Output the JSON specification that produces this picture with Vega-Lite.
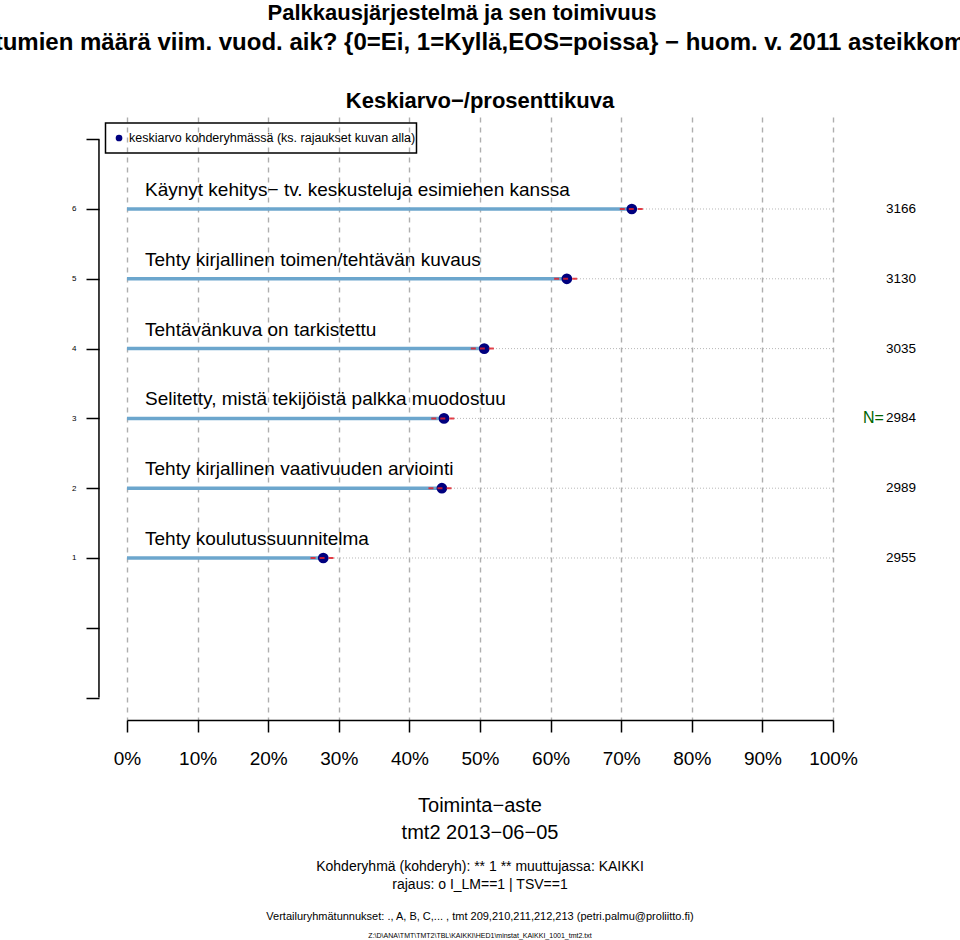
{
  "$schema": "https://vega.github.io/schema/vega-lite/v6.json",
  "width": 706,
  "height": 603,
  "autosize": {"type": "none"},
  "padding": {"left": 127, "top": 117, "right": 127, "bottom": 220},
  "background": "white",
  "config": {"view": {"stroke": null}, "font": "Liberation Sans"},
  "datasets": {
    "rows": [
      {"row": 6, "label": "Käynyt kehitys− tv. keskusteluja esimiehen kanssa", "mean": 71.5, "lo": 69.8, "hi": 73.3, "n": "3166"},
      {"row": 5, "label": "Tehty kirjallinen toimen/tehtävän kuvaus", "mean": 62.3, "lo": 60.5, "hi": 64.0, "n": "3130"},
      {"row": 4, "label": "Tehtävänkuva on tarkistettu", "mean": 50.6, "lo": 48.7, "hi": 52.4, "n": "3035"},
      {"row": 3, "label": "Selitetty, mistä tekijöistä palkka muodostuu", "mean": 44.9, "lo": 43.1, "hi": 46.7, "n": "2984"},
      {"row": 2, "label": "Tehty kirjallinen vaativuuden arviointi", "mean": 44.6, "lo": 42.7, "hi": 46.5, "n": "2989"},
      {"row": 1, "label": "Tehty koulutussuunnitelma", "mean": 27.8, "lo": 26.0, "hi": 29.5, "n": "2955"}
    ]
  },
  "data": {"name": "rows"},
  "layer": [
    {
      "mark": {"type": "point", "filled": true, "shape": "circle", "size": 115, "color": "#00007F", "opacity": 0},
      "encoding": {
        "x": {"field": "mean", "type": "quantitative", "scale": {"domain": [0, 100], "nice": false, "zero": false, "padding": 0},
          "axis": {"orient": "bottom", "values": [0, 10, 20, 30, 40, 50, 60, 70, 80, 90, 100], "labelExpr": "datum.value + '%'", "title": null,
            "grid": true, "gridDash": [5, 5], "gridColor": "#AEAEAE", "gridWidth": 1.4,
            "domain": true, "domainColor": "black", "domainWidth": 1.5,
            "ticks": true, "tickColor": "black", "tickWidth": 1.5, "tickSize": 12,
            "labelFlush": false, "labelOverlap": false, "labelBound": false,
            "labelFontSize": 19, "labelColor": "black", "labelPadding": 17, "labelFont": "Liberation Sans"}},
        "y": {"field": "row", "type": "quantitative", "scale": {"domain": [-1.321, 7.318], "nice": false, "zero": false, "padding": 0},
          "axis": {"orient": "left", "offset": 28, "values": [-1, 0, 1, 2, 3, 4, 5, 6, 7],
            "labelExpr": "datum.value >= 1 && datum.value <= 6 ? format(datum.value, 'd') : ''", "title": null,
            "grid": false, "domain": false, "ticks": true, "tickColor": "black", "tickWidth": 1.5, "tickSize": 13,
            "labelFlush": false, "labelOverlap": false,
            "labelFontSize": 8, "labelColor": "black", "labelPadding": 10, "labelFont": "Liberation Sans"}}
      }
    },
    {
      "mark": {"type": "rule", "strokeDash": [1, 2], "color": "#B8B8B8", "strokeWidth": 1},
      "encoding": {
        "y": {"field": "row", "type": "quantitative"}
      }
    },
    {
      "transform": [{"filter": "datum.row == 6"}],
      "mark": {"type": "tick", "orient": "vertical", "size": 558, "thickness": 1.5, "color": "black", "opacity": 1},
      "encoding": {
        "x": {"datum": -3.97, "type": "quantitative"},
        "y": {"datum": 3, "type": "quantitative"}
      }
    },
    {
      "mark": {"type": "bar", "orient": "horizontal", "size": 3.5, "color": "#6CA6CD"},
      "encoding": {
        "x": {"field": "mean", "type": "quantitative", "stack": null},
        "y": {"field": "row", "type": "quantitative"}
      }
    },
    {
      "mark": {"type": "point", "filled": true, "shape": "circle", "size": 115, "color": "#00007F", "opacity": 1},
      "encoding": {
        "x": {"field": "mean", "type": "quantitative"},
        "y": {"field": "row", "type": "quantitative"}
      }
    },
    {
      "mark": {"type": "rule", "color": "#E0202A", "strokeWidth": 2, "strokeDash": [5, 4], "opacity": 0.85},
      "encoding": {
        "x": {"field": "lo", "type": "quantitative"},
        "x2": {"field": "hi"},
        "y": {"field": "row", "type": "quantitative"}
      }
    },
    {
      "mark": {"type": "text", "align": "left", "baseline": "middle", "fontSize": 19, "dy": -19, "color": "black"},
      "encoding": {
        "x": {"datum": 2.55, "type": "quantitative"},
        "y": {"field": "row", "type": "quantitative"},
        "text": {"field": "label", "type": "nominal"}
      }
    },
    {
      "mark": {"type": "text", "align": "left", "baseline": "middle", "fontSize": 13.5, "color": "black"},
      "encoding": {
        "x": {"datum": 107.5, "type": "quantitative"},
        "y": {"field": "row", "type": "quantitative"},
        "text": {"field": "n", "type": "nominal"}
      }
    },
    {
      "transform": [{"filter": "datum.row == 3"}],
      "mark": {"type": "text", "align": "right", "baseline": "middle", "fontSize": 16, "color": "#006400", "text": "N="},
      "encoding": {
        "x": {"datum": 107.2, "type": "quantitative"},
        "y": {"field": "row", "type": "quantitative"}
      }
    },
    {
      "transform": [{"filter": "datum.row == 6"}],
      "mark": {"type": "point", "filled": false, "shape": "M-1,-0.0965L1,-0.0965L1,0.0965L-1,0.0965Z", "size": 96721, "stroke": "black", "strokeWidth": 1.5, "opacity": 1},
      "encoding": {
        "x": {"datum": 18.98, "type": "quantitative"},
        "y": {"datum": 7.017, "type": "quantitative"}
      }
    },
    {
      "transform": [{"filter": "datum.row == 6"}],
      "mark": {"type": "point", "filled": true, "shape": "circle", "size": 45, "color": "#00007F", "opacity": 1},
      "encoding": {
        "x": {"datum": -1.13, "type": "quantitative"},
        "y": {"datum": 7.017, "type": "quantitative"}
      }
    },
    {
      "transform": [{"filter": "datum.row == 6"}],
      "mark": {"type": "text", "align": "left", "baseline": "middle", "fontSize": 12.5, "color": "black", "text": "keskiarvo kohderyhmässä (ks. rajaukset kuvan alla)"},
      "encoding": {
        "x": {"datum": 0.28, "type": "quantitative"},
        "y": {"datum": 7.017, "type": "quantitative"}
      }
    },
    {
      "transform": [{"filter": "datum.row == 6"}],
      "mark": {"type": "text", "align": "center", "baseline": "middle", "fontSize": 22, "fontWeight": "bold", "color": "black", "text": "Palkkausjärjestelmä ja sen toimivuus"},
      "encoding": {
        "x": {"datum": 47.45, "type": "quantitative"},
        "y": {"datum": 8.808, "type": "quantitative"}
      }
    },
    {
      "transform": [{"filter": "datum.row == 6"}],
      "mark": {"type": "text", "align": "center", "baseline": "middle", "fontSize": 24, "fontWeight": "bold", "color": "black", "text": "tumien määrä viim. vuod. aik? {0=Ei, 1=Kyllä,EOS=poissa} − huom. v. 2011 asteikkom"},
      "encoding": {
        "x": {"datum": 50, "type": "quantitative"},
        "y": {"datum": 8.378, "type": "quantitative"}
      }
    },
    {
      "transform": [{"filter": "datum.row == 6"}],
      "mark": {"type": "text", "align": "center", "baseline": "middle", "fontSize": 22, "fontWeight": "bold", "color": "black", "text": "Keskiarvo−/prosenttikuva"},
      "encoding": {
        "x": {"datum": 50, "type": "quantitative"},
        "y": {"datum": 7.547, "type": "quantitative"}
      }
    },
    {
      "transform": [{"filter": "datum.row == 6"}],
      "mark": {"type": "text", "align": "center", "baseline": "middle", "fontSize": 20, "color": "black", "text": "Toiminta−aste"},
      "encoding": {
        "x": {"datum": 50, "type": "quantitative"},
        "y": {"datum": -2.553, "type": "quantitative"}
      }
    },
    {
      "transform": [{"filter": "datum.row == 6"}],
      "mark": {"type": "text", "align": "center", "baseline": "middle", "fontSize": 20, "color": "black", "text": "tmt2 2013−06−05"},
      "encoding": {
        "x": {"datum": 50, "type": "quantitative"},
        "y": {"datum": -2.94, "type": "quantitative"}
      }
    },
    {
      "transform": [{"filter": "datum.row == 6"}],
      "mark": {"type": "text", "align": "center", "baseline": "middle", "fontSize": 14, "color": "black", "text": "Kohderyhmä (kohderyh): ** 1 ** muuttujassa:  KAIKKI"},
      "encoding": {
        "x": {"datum": 50, "type": "quantitative"},
        "y": {"datum": -3.427, "type": "quantitative"}
      }
    },
    {
      "transform": [{"filter": "datum.row == 6"}],
      "mark": {"type": "text", "align": "center", "baseline": "middle", "fontSize": 14, "color": "black", "text": "rajaus:  o I_LM==1 | TSV==1"},
      "encoding": {
        "x": {"datum": 50, "type": "quantitative"},
        "y": {"datum": -3.685, "type": "quantitative"}
      }
    },
    {
      "transform": [{"filter": "datum.row == 6"}],
      "mark": {"type": "text", "align": "center", "baseline": "middle", "fontSize": 11, "color": "black", "text": "Vertailuryhmätunnukset: ., A, B, C,...   , tmt 209,210,211,212,213 (petri.palmu@proliitto.fi)"},
      "encoding": {
        "x": {"datum": 50, "type": "quantitative"},
        "y": {"datum": -4.143, "type": "quantitative"}
      }
    },
    {
      "transform": [{"filter": "datum.row == 6"}],
      "mark": {"type": "text", "align": "center", "baseline": "middle", "fontSize": 7, "color": "black", "text": "Z:\\D\\ANA\\TMT\\TMT2\\TBL\\KAIKKI\\HED1\\minstat_KAIKKI_1001_tmt2.txt"},
      "encoding": {
        "x": {"datum": 50, "type": "quantitative"},
        "y": {"datum": -4.416, "type": "quantitative"}
      }
    }
  ]
}
